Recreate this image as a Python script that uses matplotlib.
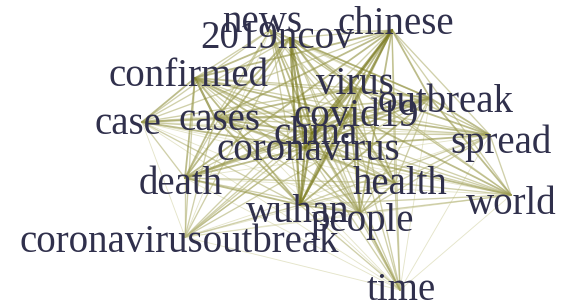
#!/usr/bin/env python3
"""
Word co-occurrence network of coronavirus tweets
"""
import matplotlib
matplotlib.use("Agg")
import matplotlib.pyplot as plt
from matplotlib.colors import to_rgb

# nodes, where their edges meet (pixel coords of the original picture)
words = ["news", "2019ncov", "chinese", "confirmed", "virus", "outbreak",
         "case", "cases", "covid19", "china", "coronavirus", "spread",
         "death", "health", "world", "wuhan", "people",
         "coronavirusoutbreak", "time"]
node_x = [270, 290, 392, 195, 355, 430, 142, 215, 350, 312, 305, 490,
          185, 395, 511, 300, 360, 185, 400]
node_y = [30, 38, 30, 78, 88, 98, 122, 118, 115, 133, 148, 135,
          178, 183, 195, 205, 213, 237, 290]
# where the word itself sits
label_x = [262, 277, 396, 188, 355, 445, 128, 219, 356, 316, 308, 501,
           181, 400, 511, 298, 362, 179, 401]
label_y = [22, 38, 24, 77, 84, 102, 124, 120, 117, 135, 150, 143,
           185, 185, 204, 212, 222, 242, 291]

# co-occurrence strength, upper triangle: row i gives weights to words i+1..
weights = [
    [2, 1, 2, 2, 2, 2, 2, 2, 3, 3, 1, 2, 2, 1, 2, 2, 1, 1],  # news
    [2, 3, 3, 3, 2, 3, 3, 4, 4, 2, 3, 2, 2, 4, 2, 2, 2],     # 2019ncov
    [3, 3, 3, 2, 3, 3, 4, 4, 2, 3, 2, 2, 4, 3, 2, 2],        # chinese
    [2, 2, 3, 4, 3, 3, 3, 2, 3, 2, 2, 3, 2, 2, 1],           # confirmed
    [3, 2, 3, 3, 3, 3, 3, 2, 3, 2, 3, 3, 2, 2],              # virus
    [1, 2, 3, 3, 3, 3, 2, 2, 3, 3, 2, 2, 1],                 # outbreak
    [3, 2, 2, 3, 1, 2, 1, 1, 2, 1, 1, 1],                    # case
    [3, 3, 3, 2, 3, 2, 2, 3, 2, 2, 1],                       # cases
    [3, 3, 3, 3, 3, 3, 3, 3, 2, 2],                          # covid19
    [4, 2, 3, 2, 2, 4, 3, 2, 2],                             # china
    [3, 3, 3, 3, 4, 3, 2, 2],                                # coronavirus
    [1, 2, 2, 2, 2, 1, 1],                                   # spread
    [2, 1, 3, 2, 2, 1],                                      # death
    [2, 2, 3, 1, 2],                                         # health
    [2, 2, 1, 1],                                            # world
    [3, 2, 2],                                               # wuhan
    [1, 3],                                                  # people
    [1],                                                     # coronavirusoutbreak
]

light = to_rgb("#d6d6ac")
dark = to_rgb("#7a7a1e")


def edge_style(w):
    t = (w - 1) / 3.0
    col = tuple(l + (d - l) * t for l, d in zip(light, dark))
    return col, 0.3 + 0.33 * w


fig = plt.figure(figsize=(5.63, 3.08), dpi=100)
ax = fig.add_axes([0, 0, 1, 1])
ax.set_xlim(0, 563)
ax.set_ylim(308, 0)
ax.axis("off")

#draw weak edges first so the strong ones end up on top
pairs = []
for i, row in enumerate(weights):
    for k, w in enumerate(row):
        pairs.append((w, i, i + 1 + k))
for w, i, j in sorted(pairs):
    col, lw = edge_style(w)
    ax.plot([node_x[i], node_x[j]], [node_y[i], node_y[j]],
            color=col, lw=lw, alpha=0.65, solid_capstyle="round", zorder=1)

for name, x, y in zip(words, label_x, label_y):
    ax.text(x, y, name, ha="center", va="center", fontsize=28,
            family="Liberation Serif", color="#30304c", zorder=3)

fig.savefig("out.png", dpi=100)
